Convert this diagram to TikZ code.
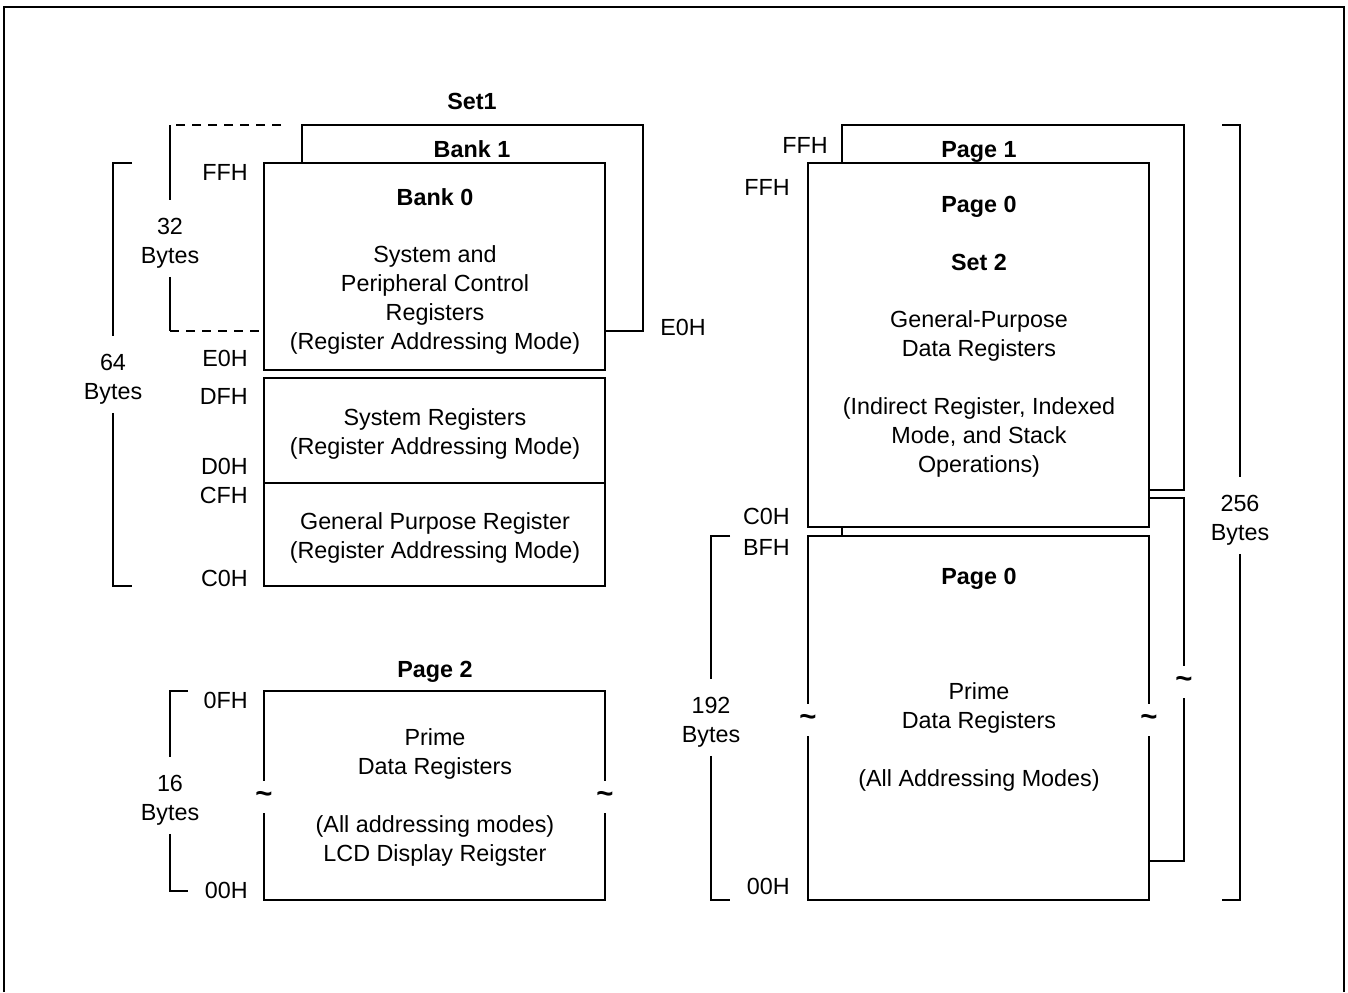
\documentclass[tikz,border=0pt]{standalone}
\usepackage{fontspec}
\setmainfont{Liberation Sans}
\newcommand{\fs}{\fontsize{17.5}{21.75}\selectfont}
\begin{document}
\begin{tikzpicture}[x=0.75pt,y=-0.75pt,
  box/.style={draw,line width=1.3pt,fill=white},
  ln/.style={line width=1.3pt},
  dsh/.style={line width=1.3pt,dash pattern=on 7pt off 5pt},
  txt/.style={font=\fs,inner sep=0pt,align=center,anchor=base},
  bold/.style={font=\fs\bfseries,inner sep=0pt,align=center,anchor=base},
  addr/.style={font=\fs,inner sep=0pt,anchor=base east},
  brk/.style={font=\fs,inner sep=0pt,align=center,anchor=base},
  tld/.style={font=\fontsize{22}{24}\selectfont\bfseries,fill=white,inner sep=0pt,minimum width=12pt,minimum height=24pt}]
\useasboundingbox (0,0) rectangle (1348,992);
% outer frame
\draw[line width=2pt] (4,992) -- (4,7) -- (1344,7) -- (1344,992);

% ---------- left upper group ----------
\draw[box] (302,125) rectangle (643,331);
\draw[box] (264,163) rectangle (605,370);
\draw[box] (264,378) rectangle (605,483);
\draw[box] (264,483) rectangle (605,586);
\node[bold] (set1) at (472,109) {Set1};
\node[bold] (bank1) at (472,157) {Bank 1};
\node[bold] (bank0) at (435,205) {Bank 0};
\node[txt] (sysper) at (435,349) {System and\\Peripheral Control\\Registers\\(Register Addressing Mode)};
\node[txt] (sysreg) at (435,454) {System Registers\\(Register Addressing Mode)};
\node[txt] (gpr) at (435,558) {General Purpose Register\\(Register Addressing Mode)};
\node[addr] (aFFHa) at (248,180) {FFH};
\node[addr] (aE0Ha) at (248,366) {E0H};
\node[addr] (aDFH) at (248,404) {DFH};
\node[addr] (aD0H) at (248,474) {D0H};
\node[addr] (aCFH) at (248,503) {CFH};
\node[addr] (aC0Ha) at (248,586) {C0H};
\node[font=\fs,inner sep=0pt,anchor=base west] (aE0Hb) at (660,335) {E0H};
% 32 bytes bracket
\node[brk] (b32) at (170,263) {32\\Bytes};
\coordinate (d32t) at (281,125);
\coordinate (d32b) at (262,331);
\draw[dsh] (d32t) -- (b32.north |- d32t);
\draw[ln] (b32.north |- d32t) -- ([yshift=13pt]b32.north);
\draw[ln] ([yshift=-6.5pt]b32.south) -- (b32.south |- d32b);
\draw[dsh] (b32.south |- d32b) -- (d32b);
% 64 bytes bracket
\node[brk] (b64) at (113,399) {64\\Bytes};
\coordinate (t64) at (132,163);
\coordinate (e64) at (132,586);
\draw[ln] (t64) -| ([yshift=13pt]b64.north);
\draw[ln] ([yshift=-6.5pt]b64.south) |- (e64);

% ---------- Page 2 ----------
\node[bold] (page2) at (435,677) {Page 2};
\draw[box] (264,691) rectangle (605,900);
\node[txt] (prime2) at (435,861) {Prime\\Data Registers\\[21.75pt](All addressing modes)\\LCD Display Reigster};
\node[tld] (tl2) at (264,797) {\textasciitilde};
\node[tld] (tr2) at (605,797) {\textasciitilde};
\node[addr] (a0FH) at (248,708) {0FH};
\node[addr] (a00Ha) at (248,898) {00H};
\node[brk] (b16) at (170,820) {16\\Bytes};
\coordinate (t16) at (188,691);
\coordinate (e16) at (188,891);
\draw[ln] (t16) -| ([yshift=13pt]b16.north);
\draw[ln] ([yshift=-6.5pt]b16.south) |- (e16);

% ---------- right group ----------
\draw[box] (842,125) rectangle (1184,490);
\draw[box] (842,498) rectangle (1184,861);
\draw[box] (808,163) rectangle (1149,527);
\draw[box] (808,536) rectangle (1149,900);
\node[bold] (page1) at (979,157) {Page 1};
\node[bold] (p0a) at (979,212) {Page 0};
\node[bold] (set2) at (979,270) {Set 2};
\node[txt] (gp) at (979,472) {General-Purpose\\Data Registers\\[21.75pt](Indirect Register, Indexed\\Mode, and Stack\\Operations)};
\node[bold] (p0b) at (979,584) {Page 0};
\node[txt] (prime0) at (979,786) {Prime\\Data Registers\\[21.75pt](All Addressing Modes)};
\node[tld] (tl0) at (808,720) {\textasciitilde};
\node[tld] (tr0) at (1149,720) {\textasciitilde};
\node[tld] (tb1) at (1184,682) {\textasciitilde};
\node[addr] (aFFHp1) at (828,153) {FFH};
\node[addr] (aFFHp0) at (790,195) {FFH};
\node[addr] (aC0Hb) at (790,524) {C0H};
\node[addr] (aBFH) at (790,555) {BFH};
\node[addr] (a00Hb) at (790,894) {00H};
\node[brk] (b192) at (711,742) {192\\Bytes};
\coordinate (t192) at (730,536);
\coordinate (e192) at (730,900);
\draw[ln] (t192) -| ([yshift=13pt]b192.north);
\draw[ln] ([yshift=-6.5pt]b192.south) |- (e192);
\node[brk] (b256) at (1240,540) {256\\Bytes};
\coordinate (t256) at (1222,125);
\coordinate (e256) at (1222,900);
\draw[ln] (t256) -| ([yshift=13pt]b256.north);
\draw[ln] ([yshift=-6.5pt]b256.south) |- (e256);
\end{tikzpicture}
\end{document}
